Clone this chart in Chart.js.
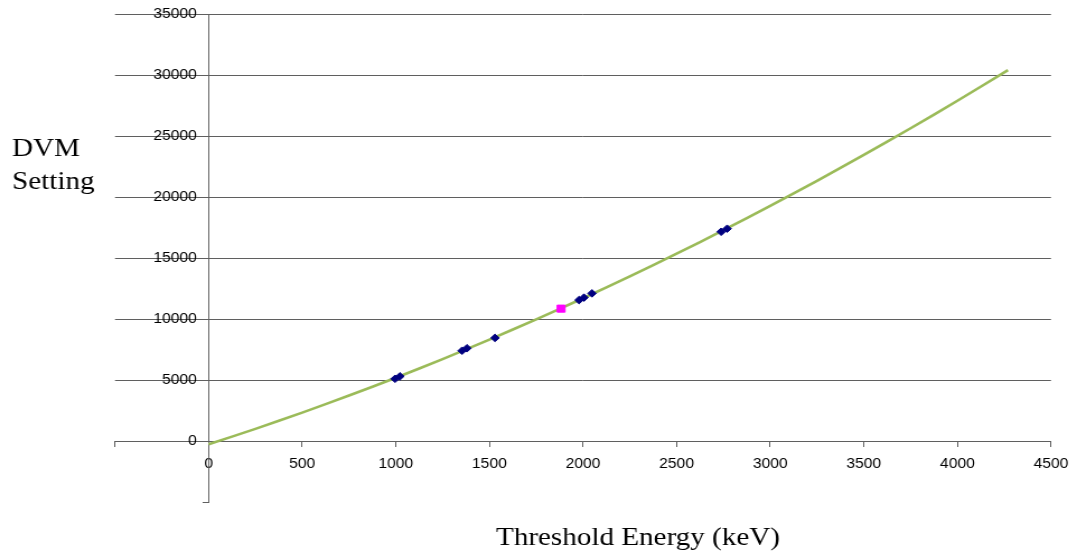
<!DOCTYPE html>
<html>
<head>
<meta charset="utf-8">
<script src="https://cdn.jsdelivr.net/npm/chart.js@4.4.1/dist/chart.umd.min.js"></script>
<style>
  html, body { margin: 0; padding: 0; background: #fff; overflow: hidden; }
  #wrap { position: absolute; left: 0; top: 0; width: 962px; height: 557px; transform: scaleX(1.11954); transform-origin: 0 0; }
  canvas { display: block; }
</style>
</head>
<body>
<div id="wrap"><canvas id="c" width="962" height="557" style="width:962px;height:557px"></canvas></div>
<script>
// Measured points (keV, DVM setting)
const measuredEnergy = [996, 1022, 1354, 1380, 1530, 1979, 2005, 2048, 2738, 2770];
const measuredDVM    = [5100, 5300, 7400, 7600, 8450, 11550, 11750, 12100, 17150, 17400];
// Highlighted point
const markEnergy = [1883];
const markDVM    = [10850];
// Trend curve
const trendEnergy = [0, 250, 500, 750, 1000, 1250, 1500, 1750, 2000, 2250, 2500, 2750, 3000, 3250, 3500, 3750, 4000, 4270];
const trendDVM    = [-270, 995, 2327, 3724, 5187, 6716, 8312, 9972, 11700, 13492, 15352, 17276, 19267, 21324, 23448, 25636, 27891, 30400];
// Axis settings
const xTicks = [-500, 0, 500, 1000, 1500, 2000, 2500, 3000, 3500, 4000, 4500];
const yTicks = [-5000, 0, 5000, 10000, 15000, 20000, 25000, 30000, 35000];
const yTitleLines = ['DVM', 'Setting'];
const xTitle = 'Threshold Energy (keV)';

const S = 1077 / 962;
const pts = (xs, ys) => xs.map((x, i) => ({ x: x, y: ys[i] }));
const gridCol = '#5f5f5f';

Chart.defaults.font.family = '"Liberation Sans", Arial, sans-serif';
Chart.defaults.font.size = 14;
Chart.defaults.color = '#000';

// Tick labels of axes that cross inside the plot get a gap from their axis line
const labelGap = {
  id: 'labelGap',
  beforeDraw(chart) {
    const shift = (scale, dx, dy) => {
      scale.getLabelItems().forEach((it) => {
        if (!it.__moved) {
          it.options.translation[0] += dx;
          it.options.translation[1] += dy;
          it.__moved = true;
        }
      });
    };
    shift(chart.scales.y, -10.5, 0);
    shift(chart.scales.x, 0, 6);
  }
};

const titles = {
  id: 'titles',
  afterDraw(chart) {
    const ctx = chart.ctx;
    ctx.save();
    ctx.fillStyle = '#000';
    ctx.font = '26px "Liberation Serif", "Times New Roman", serif';
    ctx.textAlign = 'left';
    ctx.textBaseline = 'alphabetic';
    ctx.fillText(yTitleLines[0], 12 / S, 156);
    ctx.fillText(yTitleLines[1], 12 / S, 189);
    ctx.textAlign = 'center';
    ctx.fillText(xTitle, 638 / S, 545);
    ctx.restore();
  }
};

new Chart(document.getElementById('c'), {
  type: 'scatter',
  data: {
    datasets: [
      {
        label: 'trend',
        data: pts(trendEnergy, trendDVM),
        showLine: true,
        borderColor: '#9BBB59',
        borderWidth: 2.6,
        pointRadius: 0,
        tension: 0.3,
        order: 2
      },
      {
        label: 'measured',
        data: pts(measuredEnergy, measuredDVM),
        pointStyle: 'rectRot',
        pointRadius: 3.8,
        backgroundColor: '#000080',
        borderColor: '#000080',
        borderWidth: 1,
        order: 1
      },
      {
        label: 'mark',
        data: pts(markEnergy, markDVM),
        pointStyle: 'rect',
        pointRadius: 5,
        backgroundColor: '#FF00FF',
        borderColor: '#FF00FF',
        borderWidth: 1,
        order: 0
      }
    ]
  },
  options: {
    responsive: false,
    animation: false,
    devicePixelRatio: 1,
    layout: { padding: { left: 115 / S, right: (1077 - 1051) / S, top: 14, bottom: 55 } },
    plugins: { legend: { display: false }, tooltip: { enabled: false } },
    scales: {
      x: {
        type: 'linear',
        min: xTicks[0],
        max: xTicks[xTicks.length - 1],
        position: { y: 0 },
        afterBuildTicks: (s) => { s.ticks = xTicks.map(v => ({ value: v })); },
        ticks: {
          callback: (v) => (v < 0 ? '' : String(v)),
          padding: 4,
          maxRotation: 0,
          autoSkip: false,
          font: { size: 14 }
        },
        grid: { drawOnChartArea: false, drawTicks: true, tickLength: 5, tickColor: gridCol, color: gridCol },
        border: { display: true, color: gridCol, width: 1 }
      },
      y: {
        type: 'linear',
        min: yTicks[0],
        max: yTicks[yTicks.length - 1],
        position: { x: 0 },
        afterBuildTicks: (s) => { s.ticks = yTicks.map(v => ({ value: v })); },
        ticks: {
          callback: (v) => (v < 0 ? '' : String(v)),
          padding: 0,
          autoSkip: false,
          font: { size: 14 }
        },
        grid: {
          drawOnChartArea: true,
          drawTicks: true,
          tickLength: 5,
          tickColor: gridCol,
          color: (c) => (c.tick && c.tick.value < 0 ? 'rgba(0,0,0,0)' : gridCol)
        },
        border: { display: true, color: gridCol, width: 1 }
      }
    }
  },
  plugins: [labelGap, titles]
});
</script>
</body>
</html>
